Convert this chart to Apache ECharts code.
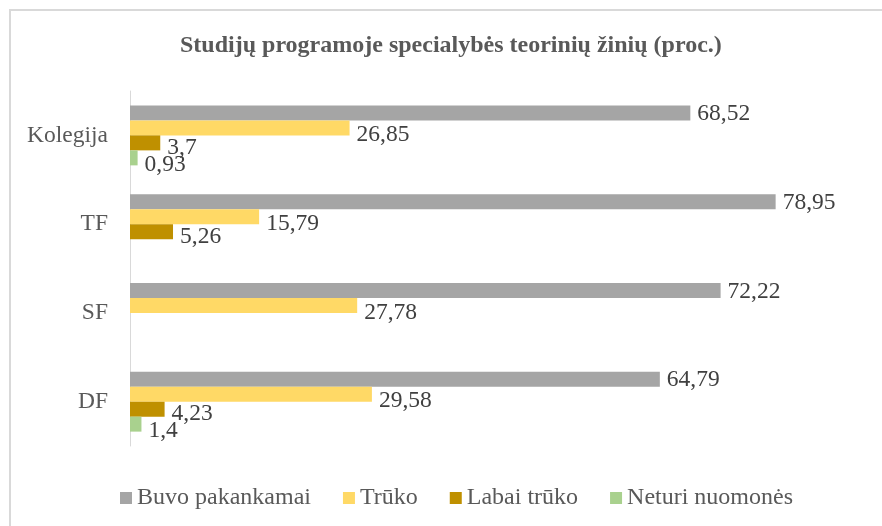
<!DOCTYPE html>
<html><head><meta charset="utf-8">
<script src="https://cdn.jsdelivr.net/npm/echarts@6/dist/echarts.min.js"></script>
<style>html,body{margin:0;padding:0;background:#fff}#c{width:882px;height:526px}</style>
</head><body><div id="c"></div>
<script>
const categories = ['Kolegija', 'TF', 'SF', 'DF'];
const seriesNames = ['Buvo pakankamai', 'Trūko', 'Labai trūko', 'Neturi nuomonės'];
const buvoPakankamai = [68.52, 78.95, 72.22, 64.79];
const truko = [26.85, 15.79, 27.78, 29.58];
const labaiTruko = [3.7, 5.26, null, 4.23];
const neturiNuomones = [0.93, null, null, 1.4];
const colors = ['#a5a5a5', '#ffd966', '#bf9000', '#a9d18e'];

const serif = '"Liberation Serif", "Times New Roman", serif';
const values = [buvoPakankamai, truko, labaiTruko, neturiNuomones];
const labelOffsets = [[0, 1], [0, 7], [0, 5], [0, 7]];

const chart = echarts.init(document.getElementById('c'), null, {renderer: 'canvas'});
chart.setOption({
  animation: false,
  backgroundColor: '#fff',
  title: {
    text: 'Studijų programoje specialybės teorinių žinių (proc.)',
    left: 175, top: 29,
    textStyle: {fontFamily: serif, fontSize: 24, fontWeight: 'bold', color: '#595959'}
  },
  graphic: [{
    type: 'rect', shape: {x: 10, y: 10, width: 1000, height: 1000},
    style: {fill: 'none', stroke: '#d9d9d9', lineWidth: 2}, silent: true
  }],
  legend: {
    left: 120, top: 486, padding: 0,
    itemWidth: 12, itemHeight: 12, itemGap: 32,
    icon: 'rect',
    textStyle: {fontFamily: serif, fontSize: 24, color: '#595959'},
    data: seriesNames
  },
  grid: {left: 130, right: 16, top: 91, height: 355, containLabel: false},
  xAxis: {
    type: 'value', min: 0, max: 90,
    axisLabel: {show: false}, splitLine: {show: false},
    axisLine: {show: false}, axisTick: {show: false}
  },
  yAxis: {
    type: 'category', inverse: true, data: categories,
    axisLine: {show: true, lineStyle: {color: '#d9d9d9', width: 1}},
    axisTick: {show: false},
    axisLabel: {fontFamily: serif, fontSize: 23.5, color: '#595959', margin: 22}
  },
  series: seriesNames.map((n, i) => ({
    name: n, type: 'bar', data: values[i],
    barWidth: 15, barGap: '0%',
    itemStyle: {color: colors[i]},
    label: {
      show: true, position: 'right', distance: 7, offset: labelOffsets[i],
      fontFamily: serif, fontSize: 23.5, color: '#404040',
      formatter: p => String(p.value).replace('.', ',')
    }
  }))
});
</script></body></html>
